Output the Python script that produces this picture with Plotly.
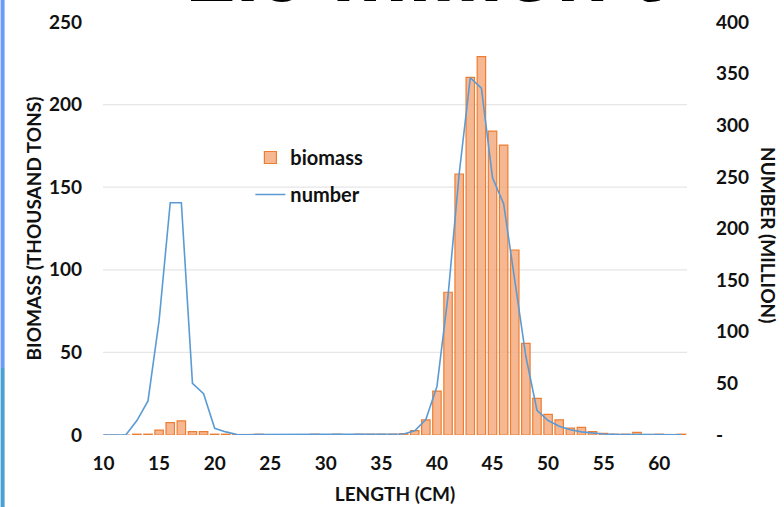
import plotly.graph_objects as go

# Length classes (cm)
lengths = list(range(10, 63))

# Biomass per length class (thousand tons)
biomass = [0, 0, 0, 0.5, 0.5, 3, 7.5, 8.5, 2, 2,
           0.5, 0.5, 0.3, 0.3, 0.5, 0, 0, 0, 0, 0.5,
           0, 0.5, 0, 0.5, 0.5, 0.5, 0.5, 0.8, 2.6, 9.1,
           26.6, 86.4, 158, 216.5, 229, 184, 175.5, 112, 55.5, 22.2,
           12.5, 9.1, 4.2, 4.6, 2, 1, 0.5, 0.5, 1.6, 0.3,
           0.5, 0, 0.5]

# Number of fish per length class (million)
number = [0, 0, 0, 14, 33, 111, 225, 225, 50, 40,
          6.5, 3, 0.5, 0.3, 0.3, 0.3, 0.3, 0.3, 0.3, 0.3,
          0.3, 0.3, 0.3, 0.3, 0.3, 0.3, 0.3, 1, 4, 15,
          47, 135, 253, 346, 336, 249, 224, 148, 76, 24,
          14, 8.5, 5, 3, 1.8, 1, 0.6, 0.5, 0.5, 0.3,
          0.3, 0.2, 0.2]

x_ticks = [10, 15, 20, 25, 30, 35, 40, 45, 50, 55, 60]
left_ticks = [0, 50, 100, 150, 200, 250]
right_ticks = [0, 50, 100, 150, 200, 250, 300, 350, 400]
right_ticktext = ["-"] + [str(v) for v in right_ticks[1:]]

FONT = "Lato"
INK = "#111111"
tick_font = dict(family=FONT, size=19, color=INK, weight="bold")
title_font = dict(family=FONT, size=19, color=INK, weight="bold")

fig = go.Figure()

fig.add_trace(go.Bar(
    x=lengths, y=biomass, name="biomass",
    marker=dict(color="rgba(244,172,128,0.85)",
                line=dict(color="#ED7D31", width=1.2)),
    yaxis="y", legendgroup="a",
))

fig.add_trace(go.Scatter(
    x=lengths, y=number, name="number", mode="lines",
    line=dict(color="#5B9BD5", width=1.6),
    yaxis="y2", legendgroup="b",
))

# horizontal gridlines for the biomass axis
for v in left_ticks[1:-1]:
    fig.add_shape(type="line", xref="paper", yref="y", x0=0, x1=1, y0=v, y1=v,
                  line=dict(color="#E6E6E6", width=1.2), layer="below")

# accent strip on the left edge
fig.add_shape(type="rect", xref="paper", yref="paper",
              x0=-102.5 / 584.5, x1=-98.5 / 584.5, y0=(435 - 368) / 413, y1=435 / 413,
              fillcolor="#6B9BFA", line=dict(width=0), layer="above")
fig.add_shape(type="rect", xref="paper", yref="paper",
              x0=-102.5 / 584.5, x1=-98.5 / 584.5, y0=-72 / 413, y1=(435 - 368) / 413,
              fillcolor="#4AA0D5", line=dict(width=0), layer="above")

# headline (runs off the top of the page)
fig.add_annotation(text="<b>2.9 million t</b>", xref="paper", yref="paper",
                   x=(424 - 102.5) / 584.5, y=(435 - 21) / 413,
                   xanchor="center", yanchor="bottom", showarrow=False,
                   font=dict(family="Liberation Sans", size=86, color="#000000"))

# right axis title, reading top to bottom
fig.add_annotation(text="NUMBER (MILLION)", xref="paper", yref="paper",
                   x=(769 - 102.5) / 584.5, y=(435 - 235) / 413,
                   xanchor="center", yanchor="middle", textangle=90, showarrow=False,
                   font=title_font)

fig.update_layout(
    width=784, height=507,
    margin=dict(l=102.5, r=97, t=22, b=72),
    paper_bgcolor="white", plot_bgcolor="white",
    bargap=0.24,
    showlegend=True,
    legend=dict(x=(250 - 102.5) / 584.5, y=(435 - 138) / 413,
                xanchor="left", yanchor="top",
                bgcolor="rgba(0,0,0,0)", tracegroupgap=8,
                font=dict(family=FONT, size=20, color=INK, weight="bold"),
                itemwidth=30),
    xaxis=dict(range=[9.95, 62.5], tickvals=x_ticks, showgrid=False,
               zeroline=False, showline=False, ticks="", automargin=False,
               tickfont=tick_font, ticklabelstandoff=15,
               title=dict(text="LENGTH (CM)", standoff=14, font=title_font)),
    yaxis=dict(range=[0, 250], tickvals=left_ticks, showgrid=False,
               zeroline=False, showline=False, ticks="", automargin=False,
               tickfont=tick_font, ticklabelstandoff=20,
               title=dict(text="BIOMASS (THOUSAND TONS)", standoff=2, font=title_font)),
    yaxis2=dict(range=[0, 400], tickvals=right_ticks, ticktext=right_ticktext,
                overlaying="y", side="right", showgrid=False,
                zeroline=False, showline=False, ticks="", automargin=False,
                tickfont=tick_font, ticklabelstandoff=28),
)

fig.write_html("out.html")
